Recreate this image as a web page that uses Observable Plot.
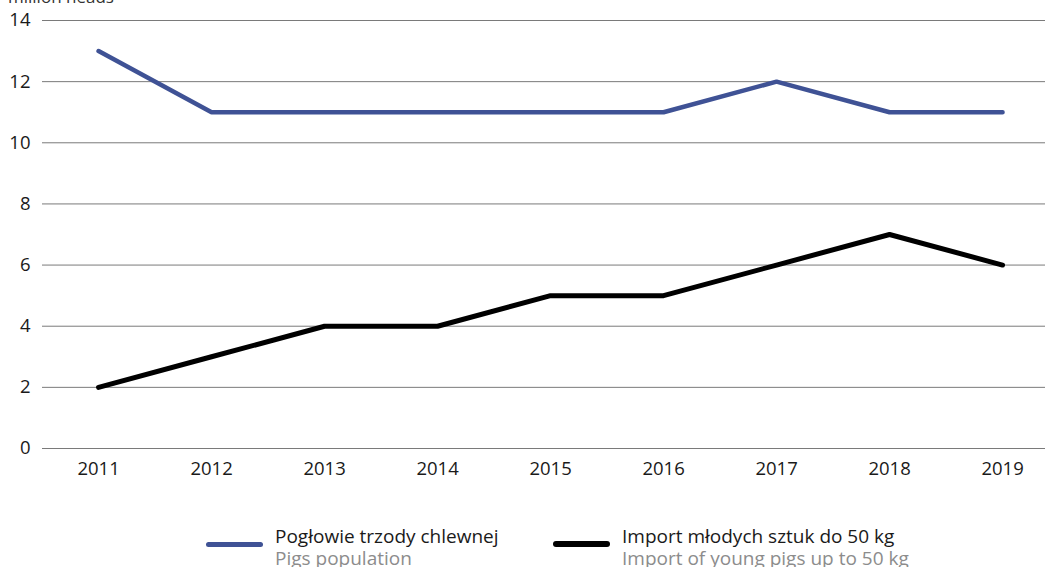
<!DOCTYPE html>
<html>
<head>
<meta charset="utf-8">
<script src="https://cdn.jsdelivr.net/npm/d3@7"></script>
<script src="https://cdn.jsdelivr.net/npm/@observablehq/plot@0.6"></script>
<style>
  html, body { margin: 0; padding: 0; background: #fff; }
  #wrap { position: relative; width: 1045px; height: 567px; overflow: hidden; font-family: "Open Sans", sans-serif; }
  #chart { position: absolute; left: 0; top: 0; }
  .unit { position: absolute; left: 8px; top: -13px; font-size: 17px; line-height: 20px; color: #333; white-space: nowrap; }
  .sw { position: absolute; border-radius: 3px; }
  .lt { position: absolute; font-size: 19px; line-height: 22px; white-space: nowrap; }
  .lt .pl { color: #1a1a1a; }
  .lt .en { color: #8c8c8c; }
</style>
</head>
<body>
<div id="wrap">
  <div id="chart"></div>
  <div class="unit">million heads</div>
</div>
<script>
const years = [2011, 2012, 2013, 2014, 2015, 2016, 2017, 2018, 2019];
const pigsPopulation = [13, 11, 11, 11, 11, 11, 12, 11, 11];
const youngPigsImport = [2, 3, 4, 4, 5, 5, 6, 7, 6];
const yTicks = [0, 2, 4, 6, 8, 10, 12, 14];
const seriesNamesPL = ["Pogłowie trzody chlewnej", "Import młodych sztuk do 50 kg"];
const seriesNamesEN = ["Pigs population", "Import of young pigs up to 50 kg"];
const seriesColors = ["#3f5295", "#000000"];

const pigsData = years.map((y, i) => ({year: y, value: pigsPopulation[i]}));
const importData = years.map((y, i) => ({year: y, value: youngPigsImport[i]}));

const plot = Plot.plot({
  width: 1045,
  height: 480,
  marginLeft: 42,
  marginRight: 0,
  marginTop: 20,
  marginBottom: 32,
  style: {fontFamily: "Open Sans, sans-serif", fontSize: "18px", color: "#1a1a1a", background: "transparent"},
  x: {domain: [2010.504, 2019.38], label: null},
  y: {domain: [0, 14], label: null},
  marks: [
    Plot.ruleY(yTicks, {stroke: "#7a7a7a", strokeWidth: 1}),
    Plot.axisY(yTicks, {tickSize: 0, tickPadding: 12, label: null, fontSize: 18.5}),
    Plot.axisX(years, {tickSize: 0, tickPadding: 13, tickFormat: d => String(d), label: null, fontSize: 18.5}),
    Plot.line(pigsData, {x: "year", y: "value", stroke: seriesColors[0], strokeWidth: 4.5, strokeLinecap: "round", strokeLinejoin: "miter"}),
    Plot.line(importData, {x: "year", y: "value", stroke: seriesColors[1], strokeWidth: 5, strokeLinecap: "round", strokeLinejoin: "miter"})
  ]
});
document.getElementById("chart").appendChild(plot);

const wrap = document.getElementById("wrap");
const legendPos = [
  {swLeft: 206, swWidth: 57, swTop: 541.5, swH: 5, textLeft: 275},
  {swLeft: 553, swWidth: 57, swTop: 541, swH: 6, textLeft: 622}
];
seriesNamesPL.forEach((name, i) => {
  const p = legendPos[i];
  const sw = document.createElement("div");
  sw.className = "sw";
  sw.style.left = p.swLeft + "px";
  sw.style.top = p.swTop + "px";
  sw.style.width = p.swWidth + "px";
  sw.style.height = p.swH + "px";
  sw.style.background = seriesColors[i];
  wrap.appendChild(sw);
  const t = document.createElement("div");
  t.className = "lt";
  t.style.left = p.textLeft + "px";
  t.style.top = "525px";
  t.innerHTML = `<div class="pl">${name}</div><div class="en">${seriesNamesEN[i]}</div>`;
  wrap.appendChild(t);
});
</script>
</body>
</html>
